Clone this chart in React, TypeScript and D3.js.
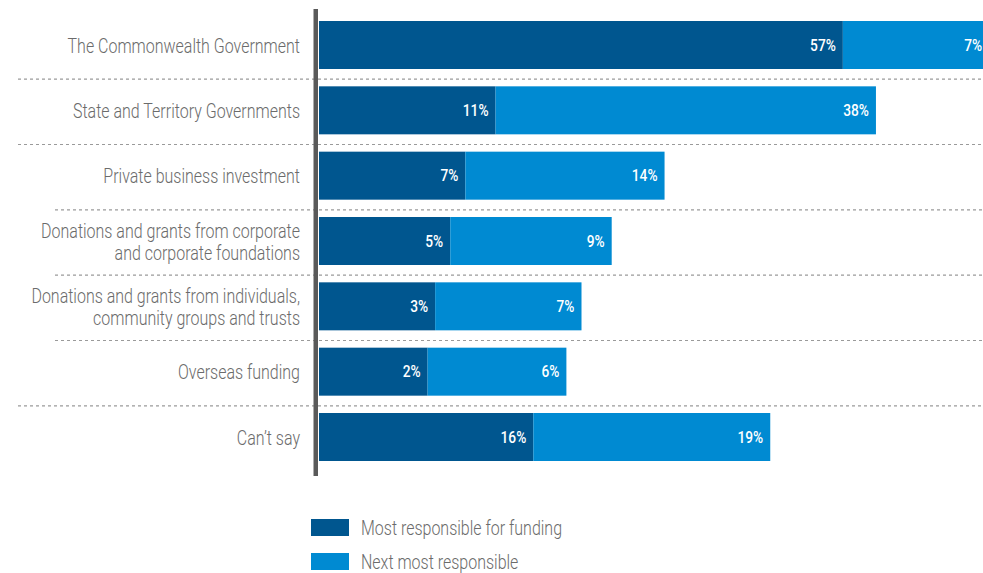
import React from "react";
import * as d3 from "d3";

const categories: string[][] = [
  ["The Commonwealth Government"],
  ["State and Territory Governments"],
  ["Private business investment"],
  ["Donations and grants from corporate", "and corporate foundations"],
  ["Donations and grants from individuals,", "community groups and trusts"],
  ["Overseas funding"],
  ["Can\u2019t say"],
];
const mostResponsible = [57, 11, 7, 5, 3, 2, 16];
const nextResponsible = [7, 38, 14, 9, 7, 6, 19];
const seriesNames = ["Most responsible for funding", "Next most responsible"];
const indentedRules = [2, 3, 4];

const W = 983;
const H = 573;
const DARK = "#00568f";
const LIGHT = "#008ad2";
const GRAY = "#6b6b6b";
const FONT = "Roboto, 'Liberation Sans', sans-serif";

export default function App() {
  const keys = categories.map((c) => c.join(" "));
  const y = d3
    .scaleBand<string>()
    .domain(keys)
    .range([12.33, 469.67])
    .paddingInner(0.2653)
    .paddingOuter(0.1327);
  const x0 = 319;
  const base = 93.5;
  const x = d3.scaleLinear().domain([0, 100]).range([0, 755]);
  const segW = (v: number) => base + x(v);
  const bw = y.bandwidth();
  const step = y.step();

  return (
    <svg
      width={W}
      height={H}
      style={{ position: "absolute", left: 0, top: 0, fontFamily: FONT }}
    >
      {keys.slice(1).map((k, i) => (
        <line
          key={"r" + i}
          x1={indentedRules.includes(i) ? 55 : 18}
          x2={W}
          y1={(y(k) as number) - (step - bw) / 2 + 1.5}
          y2={(y(k) as number) - (step - bw) / 2 + 1.5}
          stroke="#9a9a9a"
          strokeWidth={1.2}
          strokeDasharray="3,3"
        />
      ))}
      {keys.map((k, i) => {
        const top = y(k) as number;
        const w1 = segW(mostResponsible[i]);
        const w2 = segW(nextResponsible[i]);
        const cy = top + bw / 2;
        const lines = categories[i];
        return (
          <g key={k}>
            <rect x={x0} y={top} width={w1} height={bw} fill={DARK} />
            <rect x={x0 + w1} y={top} width={w2} height={bw} fill={LIGHT} />
            <g transform={`translate(${x0 + w1 - 7},${cy + 1.5}) scale(0.86,1)`}>
              <text
                textAnchor="end"
                dominantBaseline="middle"
                fill="#fff"
                fontSize={16}
                fontWeight={500}
              >
                {mostResponsible[i]}%
              </text>
            </g>
            <g transform={`translate(${x0 + w1 + w2 - 7},${cy + 1.5}) scale(0.86,1)`}>
              <text
                textAnchor="end"
                dominantBaseline="middle"
                fill="#fff"
                fontSize={16}
                fontWeight={500}
              >
                {nextResponsible[i]}%
              </text>
            </g>
            <g transform={`translate(300,${cy + 2.5}) scale(0.82,1)`}>
              {lines.map((ln, j) => (
                <text
                  key={j}
                  y={(j - (lines.length - 1) / 2) * 22}
                  textAnchor="end"
                  dominantBaseline="middle"
                  fill={GRAY}
                  fontSize={19.5}
                  fontWeight={300}
                >
                  {ln}
                </text>
              ))}
            </g>
          </g>
        );
      })}
      <rect x={313.5} y={9} width={4.5} height={467} fill="#5a5a5a" />
      {seriesNames.map((s, i) => (
        <g key={s} transform={`translate(311,${519 + i * 34})`}>
          <rect width={38} height={17} fill={i === 0 ? DARK : LIGHT} />
          <g transform="translate(50,11) scale(0.82,1)">
            <text dominantBaseline="middle" fill={GRAY} fontSize={19.5} fontWeight={300}>
              {s}
            </text>
          </g>
        </g>
      ))}
    </svg>
  );
}
